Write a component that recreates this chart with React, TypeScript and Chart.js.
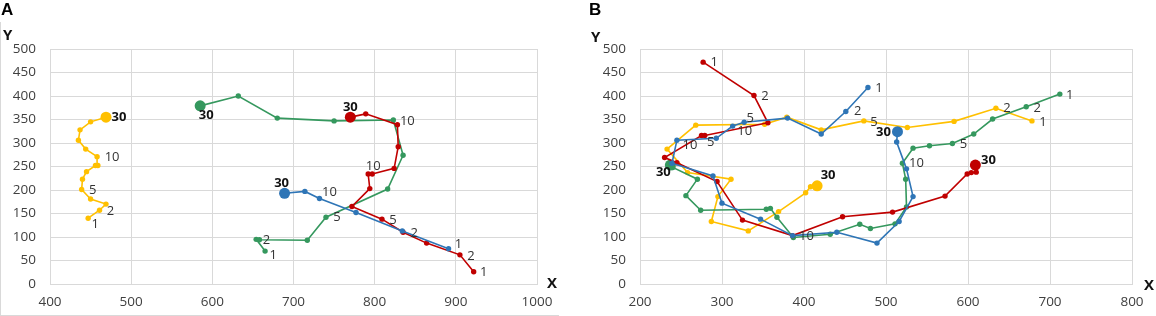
import React, { useEffect, useRef } from 'react';
import { Chart, registerables } from 'chart.js';

Chart.register(...registerables);

const FONT = '"Open Sans", "Noto Sans", sans-serif';

// ---------- Panel A ----------
const xTicksA = [400, 1000];
const yRange = [0, 500];

const yellowAX = [447, 461, 469, 450, 439, 440, 445, 456, 459, 458, 444, 435, 437, 450, 469];
const yellowAY = [140, 157, 170, 181, 201, 223, 239, 252, 252, 271, 287, 306, 328, 345, 355];
const greenAX = [665, 654, 658, 717, 740, 816, 835, 823, 750, 680, 632, 585];
const greenAY = [70, 95, 94, 93, 142, 202, 274, 349, 347, 353, 400, 379];
const redAX = [922, 905, 864, 835, 809, 772, 794, 792, 797, 824, 829, 828, 789, 770];
const redAY = [26, 62, 87, 110, 138, 165, 203, 234, 234, 246, 292, 339, 362, 355];
const blueAX = [891, 834, 777, 732, 714, 689];
const blueAY = [75, 113, 152, 182, 197, 193];

const yellowALabels: [number, string][] = [[0, '1'], [1, '2'], [4, '5'], [9, '10'], [14, '30']];
const greenALabels: [number, string][] = [[0, '1'], [2, '2'], [4, '5'], [7, '10'], [11, '30']];
const redALabels: [number, string][] = [[0, '1'], [1, '2'], [4, '5'], [8, '10'], [13, '30']];
const blueALabels: [number, string][] = [[0, '1'], [1, '2'], [3, '10'], [5, '30']];

// ---------- Panel B ----------
const xTicksB = [200, 800];

const yellowBX = [678, 634, 583, 526, 473, 421, 379, 352, 268, 233, 258, 311, 295, 287, 332, 369, 402, 408, 416];
const yellowBY = [347, 374, 346, 333, 347, 328, 355, 340, 338, 287, 237, 223, 186, 133, 113, 154, 194, 207, 209];
const greenBX = [712, 671, 630, 607, 581, 553, 533, 520, 524, 525, 511, 481, 468, 432, 387, 367, 359, 354, 274, 256, 270, 240, 237];
const greenBY = [404, 377, 351, 319, 299, 294, 289, 257, 223, 164, 128, 118, 127, 106, 99, 142, 161, 159, 157, 188, 223, 248, 253];
const redBX = [277, 339, 356, 279, 275, 230, 245, 294, 325, 386, 447, 508, 572, 599, 604, 610, 609];
const redBY = [472, 401, 343, 316, 316, 269, 258, 218, 136, 103, 143, 153, 187, 234, 237, 238, 253];
const blueBX = [478, 451, 421, 380, 327, 313, 293, 245, 239, 289, 300, 347, 386, 440, 489, 516, 533, 525, 513, 514];
const blueBY = [418, 367, 319, 353, 344, 336, 310, 306, 257, 230, 172, 138, 103, 110, 87, 133, 186, 245, 302, 324];

const yellowBLabels: [number, string][] = [[0, '1'], [1, '2'], [4, '5'], [7, '10'], [18, '30']];
const greenBLabels: [number, string][] = [[0, '1'], [1, '2'], [4, '5'], [7, '10'], [22, '30']];
const redBLabels: [number, string][] = [[0, '1'], [1, '2'], [3, '5'], [9, '10'], [16, '30']];
const blueBLabels: [number, string][] = [[0, '1'], [1, '2'], [4, '5'], [7, '10'], [19, '30']];

// ---------- styling (label pixel offsets, colours) ----------
const YELLOW = '#FFC000';
const GREEN = '#35985E';
const RED = '#C00000';
const BLUE = '#2E75B6';

const offYellowA: [number, number][] = [[7, 6], [11, 1], [11, 1], [15, 1], [13, 0]];
const offGreenA: [number, number][] = [[8, 4], [7, 0], [11, 0], [14, 1], [6, 9]];
const offRedA: [number, number][] = [[10, 1], [11, 1], [11, 1], [1, -8], [0, -10]];
const offBlueA: [number, number][] = [[10, -4], [12, 2], [10, -6], [-3, -10]];

const offYellowB: [number, number][] = [[11, 1], [11, 0], [10, 1], [-20, 7], [11, -10]];
const offGreenB: [number, number][] = [[10, 1], [11, 1], [11, 1], [14, 0], [-7, 7]];
const offRedB: [number, number][] = [[11, 0], [11, 1], [6, 7], [14, 1], [13, -5]];
const offBlueB: [number, number][] = [[11, 1], [12, 0], [6, -4], [13, 5], [-14, 1]];

type Series = {
  xs: number[];
  ys: number[];
  color: string;
  labels: [number, string][];
  offsets: [number, number][];
};

const seriesA: Series[] = [
  { xs: yellowAX, ys: yellowAY, color: YELLOW, labels: yellowALabels, offsets: offYellowA },
  { xs: greenAX, ys: greenAY, color: GREEN, labels: greenALabels, offsets: offGreenA },
  { xs: redAX, ys: redAY, color: RED, labels: redALabels, offsets: offRedA },
  { xs: blueAX, ys: blueAY, color: BLUE, labels: blueALabels, offsets: offBlueA },
];

const seriesB: Series[] = [
  { xs: yellowBX, ys: yellowBY, color: YELLOW, labels: yellowBLabels, offsets: offYellowB },
  { xs: greenBX, ys: greenBY, color: GREEN, labels: greenBLabels, offsets: offGreenB },
  { xs: redBX, ys: redBY, color: RED, labels: redBLabels, offsets: offRedB },
  { xs: blueBX, ys: blueBY, color: BLUE, labels: blueBLabels, offsets: offBlueB },
];

function buildChart(
  canvas: HTMLCanvasElement,
  series: Series[],
  xRange: number[],
  yAxisWidth: number,
  rightPad: number
) {
  const datasets = series.map((s, i) => ({
    data: s.xs.map((x, k) => ({ x, y: s.ys[k] })),
    borderColor: s.color,
    backgroundColor: s.color,
    pointBorderColor: s.color,
    pointBackgroundColor: s.color,
    borderWidth: 1.6,
    pointBorderWidth: 0,
    pointRadius: (ctx: any) => (ctx.dataIndex === s.xs.length - 1 ? 5.5 : 2.7),
    showLine: true,
    tension: 0,
    fill: false,
    order: series.length - i,
  }));

  const labelPlugin = {
    id: 'pointLabels',
    afterDatasetsDraw(chart: any) {
      const ctx = chart.ctx;
      series.forEach((s, di) => {
        const meta = chart.getDatasetMeta(di);
        s.labels.forEach(([idx, text], k) => {
          const el = meta.data[idx];
          if (!el) return;
          const [dx, dy] = s.offsets[k];
          const bold = idx === s.xs.length - 1;
          ctx.save();
          ctx.font = `${bold ? 'bold ' : ''}13px ${FONT}`;
          ctx.fillStyle = bold ? '#111111' : '#333333';
          ctx.textAlign = 'center';
          ctx.textBaseline = 'middle';
          ctx.fillText(text, el.x + dx, el.y + dy);
          ctx.restore();
        });
      });
    },
  };

  const tickFont = { family: FONT, size: 13.5 };

  return new Chart(canvas, {
    type: 'scatter',
    data: { datasets } as any,
    options: {
      responsive: false,
      animation: false,
      events: [],
      layout: { padding: { left: 0, top: 49, right: rightPad, bottom: 0 } },
      plugins: { legend: { display: false }, tooltip: { enabled: false } },
      scales: {
        x: {
          type: 'linear',
          min: xRange[0],
          max: xRange[1],
          afterFit: (sc: any) => {
            sc.height = 32;
          },
          ticks: {
            stepSize: 100,
            padding: 10,
            color: '#404040',
            font: tickFont,
            callback: (v: any) => String(v),
          },
          grid: { color: '#d9d9d9', drawTicks: false, lineWidth: 1 },
          border: { color: '#d9d9d9' },
        },
        y: {
          type: 'linear',
          min: yRange[0],
          max: yRange[1],
          afterFit: (sc: any) => {
            sc.width = yAxisWidth;
          },
          ticks: {
            stepSize: 50,
            padding: 14,
            color: '#404040',
            font: tickFont,
            callback: (v: any) => String(v),
          },
          grid: { color: '#d9d9d9', drawTicks: false, lineWidth: 1 },
          border: { color: '#d9d9d9' },
        },
      },
    } as any,
    plugins: [labelPlugin],
  });
}

const letterStyle: React.CSSProperties = {
  position: 'absolute',
  fontFamily: '"Liberation Sans", Arial, sans-serif',
  fontWeight: 'bold',
  fontSize: 17,
  lineHeight: '17px',
  color: '#000',
};

const axisTitleStyle: React.CSSProperties = {
  position: 'absolute',
  fontFamily: FONT,
  fontWeight: 'bold',
  fontSize: 15,
  lineHeight: '15px',
  color: '#111',
};

export default function App() {
  const refA = useRef<HTMLCanvasElement>(null);
  const refB = useRef<HTMLCanvasElement>(null);

  useEffect(() => {
    const a = buildChart(refA.current!, seriesA, xTicksA, 50, 41);
    const b = buildChart(refB.current!, seriesB, xTicksB, 60, 24);
    return () => {
      a.destroy();
      b.destroy();
    };
  }, []);

  return (
    <div style={{ position: 'absolute', left: 0, top: 0, width: 1156, height: 316, background: '#fff', overflow: 'hidden' }}>
      <div
        style={{
          position: 'absolute',
          left: 0,
          top: 22,
          width: 558,
          height: 293,
          borderLeft: '1px solid #d9d9d9',
          borderBottom: '1px solid #d9d9d9',
        }}
      />
      <canvas ref={refA} width={578} height={316} style={{ position: 'absolute', left: 0, top: 0, display: 'block' }} />
      <canvas ref={refB} width={576} height={316} style={{ position: 'absolute', left: 580, top: 0, display: 'block' }} />
      <div style={{ ...letterStyle, left: 1, top: 1 }}>A</div>
      <div style={{ ...letterStyle, left: 589, top: 1 }}>B</div>
      <div style={{ ...axisTitleStyle, left: 3, top: 27 }}>Y</div>
      <div style={{ ...axisTitleStyle, left: 547, top: 275 }}>X</div>
      <div style={{ ...axisTitleStyle, left: 591, top: 29 }}>Y</div>
      <div style={{ ...axisTitleStyle, left: 1144, top: 277 }}>X</div>
    </div>
  );
}
